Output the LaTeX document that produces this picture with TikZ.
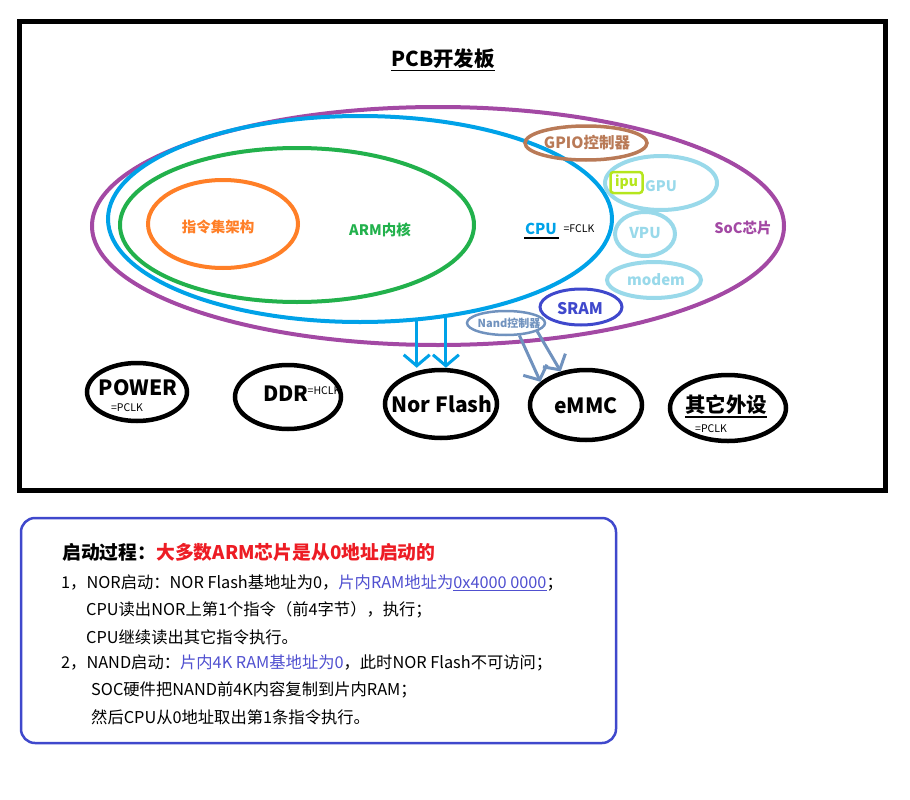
\documentclass[tikz,border=0pt]{standalone}
\usepackage{fontspec}
\setmainfont{Noto Sans CJK SC}
\usetikzlibrary{shapes.geometric,arrows.meta}
\definecolor{purp}{HTML}{A349A4}
\definecolor{cpub}{HTML}{00A2E8}
\definecolor{grn}{HTML}{22B14C}
\definecolor{orng}{HTML}{FF7F27}
\definecolor{brwn}{HTML}{B97A57}
\definecolor{lblue}{HTML}{99D9EA}
\definecolor{lime}{HTML}{B5E61D}
\definecolor{indg}{HTML}{3F48CC}
\definecolor{nandb}{HTML}{7092BE}
\definecolor{redt}{HTML}{ED1C24}
\definecolor{bluet}{HTML}{5050D0}
\newcommand\myfs[1]{\fontsize{#1}{#1}\selectfont}
\begin{document}
\begin{tikzpicture}[x=1pt,y=-1pt,
  ell/.style={draw=#1, ellipse, inner sep=0pt},
  txt/.style={inner sep=0pt},
  boxline/.style={txt, anchor=west, font=\myfs{16.3}},
  barrow/.style={line width=3pt, -{Straight Barb[length=11pt,width=26pt]}}
]
\useasboundingbox (0,0) rectangle (910,800);
% board frame
\node[draw, line width=5pt, minimum width=866, minimum height=468, inner sep=0pt] (board) at (452,256) {};
\node[txt, font=\bfseries\myfs{20.5}] (title) at (443,60) {\underline{PCB开发板}};
% nested ellipses
\node[ell=purp, line width=4pt, minimum width=692, minimum height=238] (soc) at (438,226) {};
\node[ell=cpub, line width=4pt, minimum width=504, minimum height=206] (cpu) at (360,219) {};
\node[ell=grn, line width=4pt, minimum width=354, minimum height=154] (arm) at (297,225) {};
\node[ell=orng, line width=4pt, minimum width=150, minimum height=88] (isa) at (223,224) {};
\node[txt, text=orng, font=\bfseries\myfs{14.5}] (isaT) at (218,227) {指令集架构};
\node[txt, text=grn, font=\bfseries\myfs{14.5}] (armT) at (380,230) {ARM内核};
\node[txt, text=cpub, font=\bfseries\myfs{15}] (cpuT) at (541,229) {CPU};
\draw[line width=1.2pt] (524,238) -- (559,238);
\node[txt, font=\myfs{10.5}] (fclk) at (579,229) {=FCLK};
\node[txt, text=purp, font=\bfseries\myfs{14.5}] (socT) at (743,228) {SoC芯片};
% SoC blocks
\node[ell=brwn, line width=3.5pt, minimum width=122, minimum height=34] (gpio) at (586,143) {};
\node[txt, text=brwn, font=\bfseries\myfs{15.5}] (gpioT) at (587,143) {GPIO控制器};
\node[ell=lblue, line width=4pt, minimum width=112, minimum height=54] (gpu) at (661,183) {};
\node[txt, text=lblue, font=\bfseries\myfs{14.5}] (gpuT) at (661,186) {GPU};
\node[draw=lime, line width=2.5pt, rounded corners=3pt, text=lime, font=\bfseries\myfs{14}, inner sep=0pt, minimum width=32, minimum height=21] (ipu) at (626.5,182.5) {ipu};
\node[ell=lblue, line width=4pt, minimum width=60, minimum height=44] (vpu) at (645,234) {};
\node[txt, text=lblue, font=\bfseries\myfs{15}] (vpuT) at (645,233) {VPU};
\node[ell=lblue, line width=4pt, minimum width=94, minimum height=36] (modem) at (654,280) {};
\node[txt, text=lblue, font=\bfseries\myfs{15}] (modemT) at (656,280) {modem};
\node[ell=indg, line width=3pt, minimum width=82, minimum height=36] (sram) at (581,307) {};
\node[txt, text=indg, font=\bfseries\myfs{16}] (sramT) at (580,309) {SRAM};
\node[ell=nandb, line width=2.5pt, minimum width=78, minimum height=24] (nand) at (506,323) {};
\node[txt, text=nandb, font=\bfseries\myfs{11}] (nandT) at (509,323) {Nand控制器};
% peripherals
\node[ell=black, line width=4.5pt, minimum width=100, minimum height=58] (power) at (137,392) {};
\node[txt, font=\bfseries\myfs{21}] (powerT) at (138,388) {POWER};
\node[txt, font=\myfs{10.5}] (powerC) at (127,408) {=PCLK};
\node[ell=black, line width=4.5pt, minimum width=106, minimum height=64] (ddr) at (288,397) {};
\node[txt, font=\bfseries\myfs{21}] (ddrT) at (286,394) {DDR};
\node[txt, font=\myfs{10.5}] (ddrC) at (324,391) {=HCLK};
\node[ell=black, line width=4.5pt, minimum width=112, minimum height=68] (nor) at (441,404) {};
\node[txt, font=\bfseries\myfs{21}] (norT) at (442,404) {Nor Flash};
\node[ell=black, line width=4.5pt, minimum width=112, minimum height=70] (emmc) at (586,405) {};
\node[txt, font=\bfseries\myfs{21}] (emmcT) at (586,406) {eMMC};
\node[ell=black, line width=4.5pt, minimum width=116, minimum height=66] (other) at (728,408) {};
\node[txt, font=\bfseries\myfs{20.5}] (otherT) at (726,405) {其它外设};
\draw[line width=1.2pt] (otherT.south west) ++(0,2) -- ([yshift=-2pt]otherT.south east);
\node[txt, font=\myfs{10.5}] (otherC) at (711,429) {=PCLK};
% connectors
\draw[barrow, cpub] (cpu.-61.3) -- (cpu.-61.3 |- nor.north);
\draw[barrow, cpub] (cpu.-49.9) -- (cpu.-49.9 |- nor.north);
\draw[barrow, nandb] (nand.-43.5) -- (emmc.153.8);
\draw[barrow, nandb] (nand.-15.4) -- (emmc.127.2);
% boot process box
\node[draw=indg, line width=2.5pt, rounded corners=14pt, minimum width=595, minimum height=225, inner sep=0pt] (box) at (318.5,630.5) {};
\node[txt, anchor=west, font=\bfseries\myfs{18.8}] (l0) at (62,552) {启动过程：\textcolor{redt}{大多数ARM芯片是从0地址启动的}};
\node[boxline] (l1) at (61,583) {1，NOR启动：NOR Flash基地址为0，\textcolor{bluet}{片内RAM地址为\underline{0x4000 0000}}；};
\node[boxline] (l2) at (86,610) {CPU读出NOR上第1个指令（前4字节），执行；};
\node[boxline] (l3) at (86,637) {CPU继续读出其它指令执行。};
\node[boxline] (l4) at (61,663) {2，NAND启动：\textcolor{bluet}{片内4K RAM基地址为0}，此时NOR Flash不可访问；};
\node[boxline] (l5) at (91,690) {SOC硬件把NAND前4K内容复制到片内RAM；};
\node[boxline] (l6) at (91,717) {然后CPU从0地址取出第1条指令执行。};
\end{tikzpicture}
\end{document}
